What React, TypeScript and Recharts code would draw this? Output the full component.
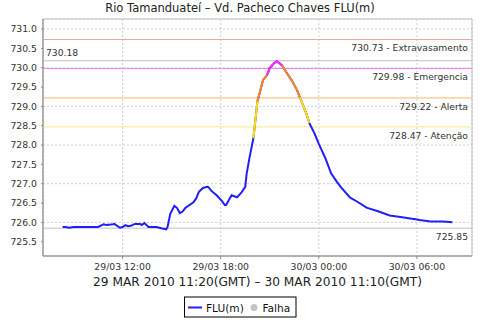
import React from 'react';
import {
  LineChart,
  Line,
  XAxis,
  YAxis,
  CartesianGrid,
  ReferenceLine,
  ReferenceArea,
} from 'recharts';

// minutes since 29/03/2010 00:00 (local time)
const minutes = [
  500, 510, 525, 540, 630, 650, 660, 685, 690, 710, 720, 730, 740, 750, 765, 785, 790, 800,
  815, 845, 865, 880, 885, 895, 910, 920, 930, 940, 950, 980, 990, 1000, 1015, 1030, 1035,
  1045, 1065, 1085, 1095, 1100, 1115, 1120, 1140, 1155, 1170, 1175, 1185, 1200, 1215, 1225,
  1235, 1250, 1260, 1275, 1285, 1295, 1305, 1320, 1340, 1360, 1370, 1385, 1395, 1405, 1425,
  1440, 1465, 1485, 1505, 1520, 1555, 1580, 1615, 1660, 1700, 1740, 1775, 1795, 1810, 1850,
  1895, 1930,
];

const flu = [
  725.88, 725.88, 725.86, 725.88, 725.88, 725.95, 725.93, 725.95, 725.96, 725.86, 725.88,
  725.93, 725.9, 725.91, 725.96, 725.96, 725.93, 725.98, 725.88, 725.88, 725.84, 725.82,
  725.88, 726.22, 726.43, 726.37, 726.24, 726.28, 726.37, 726.52, 726.62, 726.79, 726.89,
  726.92, 726.91, 726.82, 726.7, 726.55, 726.45, 726.45, 726.64, 726.7, 726.65, 726.76,
  726.92, 727.25, 727.65, 728.18, 729.14, 729.4, 729.68, 729.81, 729.99, 730.11, 730.17,
  730.12, 730.06, 729.89, 729.68, 729.42, 729.24, 728.98, 728.8, 728.57, 728.29, 728.03,
  727.64, 727.27, 727.06, 726.92, 726.64, 726.54, 726.38, 726.28, 726.18, 726.14, 726.1,
  726.08, 726.06, 726.02, 726.02, 726.0,
];

const xTicks = [720, 1080, 1440, 1800];
const xTickLabels = ['29/03 12:00', '29/03 18:00', '30/03 00:00', '30/03 06:00'];
const yTicks = [725.5, 726.0, 726.5, 727.0, 727.5, 728.0, 728.5, 729.0, 729.5, 730.0, 730.5, 731.0];
const xDomain = [428, 2002];
const yDomain = [725.13, 731.26];

// alarm levels: Extravasamento, Emergencia, Alerta, Atenção
const levelValues = [730.73, 729.98, 729.22, 728.47];
const levelNames = ['Extravasamento', 'Emergencia', 'Alerta', 'Atenção'];
const maxValue = 730.18;
const minValue = 725.85;

const FONT = '"DejaVu Sans", sans-serif';
const levelColors = ['#f2a3a3', '#ff80ff', '#ffc387', '#ffeba0'];
const curveColors = ['#1e1eff', '#ffe000', '#ff8a1c', '#ff2cff'];

const cat = (v: number) =>
  v >= levelValues[1] ? 3 : v >= levelValues[2] ? 2 : v >= levelValues[3] ? 1 : 0;

const rows = minutes.map((t, i) => {
  const c = cat(flu[i]);
  const cn = i + 1 < flu.length ? cat(flu[i + 1]) : -1;
  const r: any = { t, v: flu[i] };
  [1, 2, 3].forEach((k) => {
    r['c' + k] = c === k || cn === k ? flu[i] : null;
  });
  return r;
});

const labelBelowRight = (text: string) => (props: any) => {
  const vb = props.viewBox || {};
  return (
    <text
      x={vb.x + vb.width - 4}
      y={vb.y + 12}
      textAnchor="end"
      fontSize={9.2}
      fontFamily={FONT}
      fill="#333"
    >
      {text}
    </text>
  );
};

const labelAboveLeft = (text: string) => (props: any) => {
  const vb = props.viewBox || {};
  return (
    <text x={vb.x + 3} y={vb.y - 4.5} textAnchor="start" fontSize={9.2} fontFamily={FONT} fill="#333">
      {text}
    </text>
  );
};

export default function App() {
  const tickStyle = { fontSize: 9.3, fill: '#333', fontFamily: FONT };
  return (
    <div style={{ position: 'absolute', left: 0, top: 0, width: 480, height: 320, background: '#fff' }}>
      <LineChart
        width={480}
        height={320}
        data={rows}
        margin={{ top: 19, right: 8, bottom: 44, left: 0 }}
      >
        <CartesianGrid stroke="#cfcfcf" strokeDasharray="2 2" />
        <ReferenceArea
          x1={xDomain[0]}
          x2={xDomain[1]}
          y1={yDomain[0]}
          y2={yDomain[1]}
          fill="none"
          stroke="#c0c0c0"
          strokeWidth={1}
        />
        <XAxis
          dataKey="t"
          type="number"
          domain={xDomain}
          ticks={xTicks}
          tickFormatter={(v: number) => xTickLabels[xTicks.indexOf(v)] ?? ''}
          tick={tickStyle}
          tickSize={3}
          tickMargin={4}
          height={20}
          stroke="#888"
          allowDataOverflow
        />
        <YAxis
          type="number"
          domain={yDomain}
          ticks={yTicks}
          tickFormatter={(v: number) => v.toFixed(1)}
          tick={tickStyle}
          tickSize={2}
          tickMargin={4}
          width={43}
          stroke="#888"
          allowDataOverflow
        />
        <ReferenceLine y={maxValue} stroke="#c0c0c0" label={labelAboveLeft(maxValue.toFixed(2))} />
        <ReferenceLine y={minValue} stroke="#c0c0c0" label={labelBelowRight(minValue.toFixed(2))} />
        {levelValues.map((lv, i) => (
          <ReferenceLine
            key={lv}
            y={lv}
            stroke={levelColors[i]}
            strokeWidth={1.2}
            label={labelBelowRight(`${lv.toFixed(2)} - ${levelNames[i]}`)}
          />
        ))}
        <Line
          dataKey="v"
          type="linear"
          stroke={curveColors[0]}
          strokeWidth={2}
          dot={false}
          isAnimationActive={false}
        />
        {[1, 2, 3].map((k) => (
          <Line
            key={k}
            dataKey={'c' + k}
            type="linear"
            stroke={curveColors[k]}
            strokeWidth={2}
            dot={false}
            connectNulls={false}
            isAnimationActive={false}
          />
        ))}
      </LineChart>
      <svg
        width={480}
        height={320}
        style={{ position: 'absolute', left: 0, top: 0, pointerEvents: 'none' }}
        fontFamily={FONT}
      >
        <text x={240} y={12} textAnchor="middle" fontSize={11.5} fill="#222">
          Rio Tamanduateí – Vd. Pacheco Chaves FLU(m)
        </text>
        <text x={257.5} y={286} textAnchor="middle" fontSize={12.2} fill="#222">
          29 MAR 2010 11:20(GMT) – 30 MAR 2010 11:10(GMT)
        </text>
        <rect x={184.5} y={297} width={111.5} height={20} fill="#fff" stroke="#000" strokeWidth={1} />
        <line x1={188} x2={202} y1={307.5} y2={307.5} stroke={curveColors[0]} strokeWidth={2} />
        <text x={206} y={311.5} fontSize={10.6} fill="#111">
          FLU(m)
        </text>
        <circle cx={254} cy={307.5} r={3.5} fill="#c4c4c4" />
        <text x={262.5} y={311.5} fontSize={10.6} fill="#111">
          Falha
        </text>
      </svg>
    </div>
  );
}
